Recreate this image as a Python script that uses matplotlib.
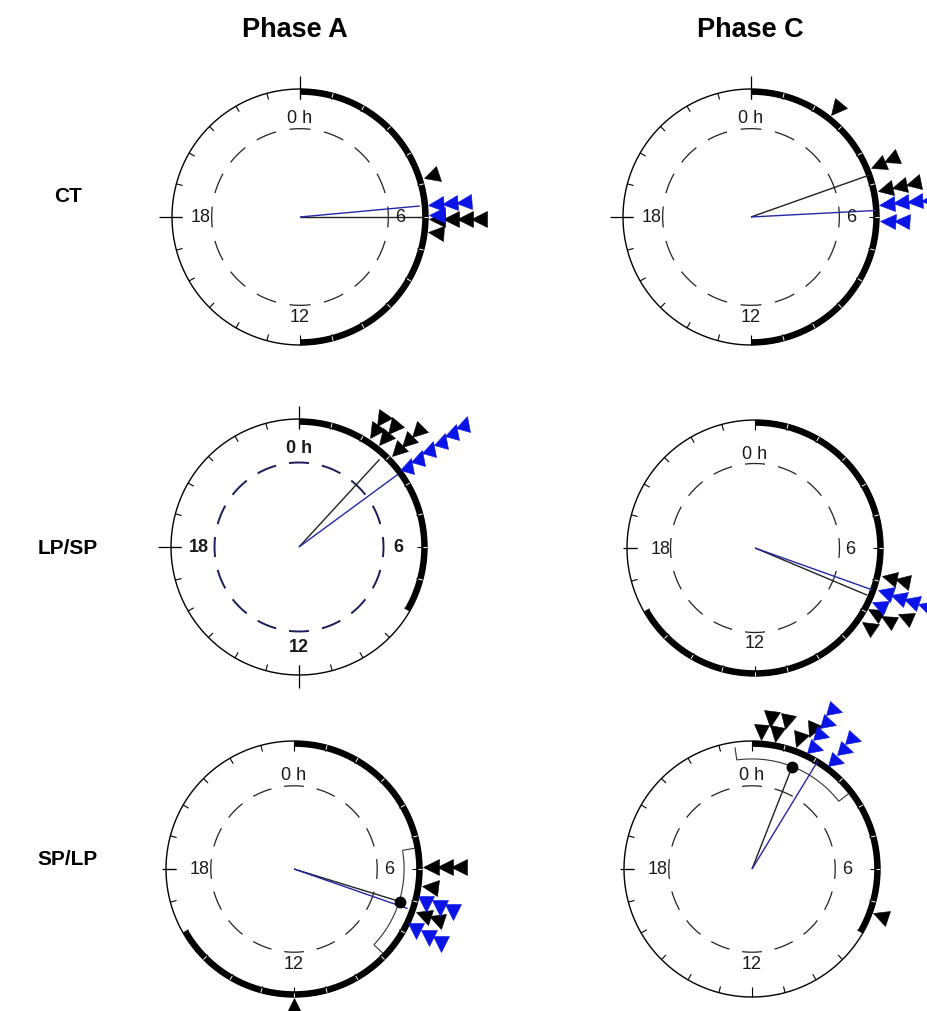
import numpy as np
import matplotlib
matplotlib.use("Agg")
import matplotlib.pyplot as plt
from matplotlib.markers import MarkerStyle
from matplotlib.transforms import Affine2D

plt.rcParams["font.family"] = ["Liberation Sans", "DejaVu Sans"]

# --- data -------------------------------------------------------------
col_titles = ["Phase A", "Phase C"]
row_labels = ["CT", "LP/SP", "SP/LP"]

# panels in reading order: CT-A, CT-C, LP/SP-A, LP/SP-C, SP/LP-A, SP/LP-C
# light phase (thick arc), clock hours
light_on = [0, 0, 0, 0, 0, 0]
light_off = [12, 12, 8, 16, 16, 8]

# individual peak phases (h)
black_phases = [
    [4.85, 6.05, 6.05, 6.05, 6.05, 6.45],
    [2.55, 4.5, 4.5, 5.2, 5.2, 5.2],
    [2.2, 2.2, 2.55, 2.55, 3.05, 3.05, 3.05],
    [6.85, 6.85, 7.9, 7.9, 7.65, 8.3],
    [5.95, 5.95, 5.95, 6.5, 7.3, 7.3, 12.0],
    [0.24, 0.48, 0.66, 0.9, 1.33, 1.56, 7.35],
]
blue_phases = [
    [5.65, 5.65, 5.65, 5.95],
    [5.63, 5.63, 5.63, 5.63, 6.1, 6.1],
    [3.55, 3.55, 3.55, 3.55, 3.55, 3.55],
    [7.25, 7.25, 7.25, 7.25, 7.25, 7.65],
    [7.0, 7.0, 7.0, 7.8, 7.8, 7.8],
    [1.85, 1.85, 1.85, 1.85, 2.55, 2.55, 2.55],
]

# mean vectors: phase (h) and length r
black_mean_h = [6.0, 4.7, 2.84, 7.52, 7.14, 1.43]
black_mean_r = [0.96, 0.98, 0.93, 0.95, 0.87, 0.86]
blue_mean_h = [5.65, 5.8, 3.58, 7.31, 7.28, 2.09]
blue_mean_r = [0.94, 0.98, 0.96, 0.97, 0.94, 0.99]

# 95% confidence interval of the black mean (only where drawn)
ci_lo = [None, None, None, None, 5.35, -0.53]
ci_hi = [None, None, None, None, 8.9, 3.47]

# Rayleigh critical radius (dashed circle)
crit_r = [0.69, 0.69, 0.66, 0.66, 0.65, 0.65]

# --- layout / style ---------------------------------------------------
W, H = 928, 1012
R = 128  # circle radius in px
centers = [(300, 218), (751, 218), (299, 548), (755, 549), (294, 870), (752, 870)]
label_r = [0.78, 0.78, 0.78, 0.74, 0.74, 0.74]
label_bold = [False, False, True, False, False, False]
out_ticks = [[0, 18], [0, 18], [0, 12, 18], [18], [18], [18]]
blue_dir = [None, None, 75, None, 270, 345]  # absolute pointing direction, None = inward
dash_col = ["#222222", "#222222", "#1c1c5a", "#222222", "#222222", "#222222"]
BLUE = "#0a14e6"
BLUE_LINE = "#2626a6"
RMAX = 1.75


def h2t(h):
    return np.asarray(h, dtype=float) / 24.0 * 2 * np.pi


def stack(phases, r0=1.07, step=0.11, dmin=0.08):
    placed = []
    for h in phases:
        a = float(h2t(h))
        r = r0
        while any(np.hypot(r * np.sin(a) - q * np.sin(b), r * np.cos(a) - q * np.cos(b)) < dmin
                  for b, q in placed):
            r += step
        placed.append((a, r))
    return placed


def triangle(ax, a, r, color, direction=None):
    rot = -np.degrees(a) if direction is None else direction - 270
    m = MarkerStyle("v", transform=Affine2D().rotate_deg(rot))
    ax.plot([a], [r], ls="none", marker=m, ms=11, mfc=color, mec=color,
            mew=0.4, clip_on=False, zorder=5)


fig = plt.figure(figsize=(W / 100, H / 100), dpi=100)

for i, (cx, cy) in enumerate(centers):
    half = RMAX * R
    ax = fig.add_axes([(cx - half) / W, (H - cy - half) / H, 2 * half / W, 2 * half / H],
                      projection="polar")
    ax.set_theta_zero_location("N")
    ax.set_theta_direction(-1)
    ax.set_ylim(0, RMAX)
    ax.set_axis_off()

    kw = dict(clip_on=False, solid_capstyle="butt")
    th = np.linspace(0, 2 * np.pi, 721)
    ax.plot(th, np.ones_like(th), color="k", lw=1.0, **kw)

    # hour ticks
    for hr in range(24):
        t = h2t(hr)
        inner = 0.92 if hr % 6 == 0 else 0.95
        ax.plot([t, t], [inner, 1.0], color="k", lw=0.8, **kw)
    for hr in out_ticks[i]:
        t = h2t(hr)
        top = 1.1 if i < 3 else 1.03
        ax.plot([t, t], [0.92, top], color="k", lw=0.9, **kw)

    # light phase arc
    ta = np.linspace(h2t(light_on[i]), h2t(light_off[i]), 200)
    ax.plot(ta, np.full_like(ta, 0.978), color="k", lw=4.3, **kw)
    for hr in range(light_on[i] + 1, light_off[i]):
        t = h2t(hr)
        ax.plot([t, t], [0.965, 1.0], color="white", lw=0.7, **kw)

    # dashed critical circle, dashes centred on the quarter hours
    for k in range(16):
        c = k * 2 * np.pi / 16
        seg = np.linspace(c - np.radians(6.8), c + np.radians(6.8), 20)
        ax.plot(seg, np.full_like(seg, crit_r[i]), color=dash_col[i],
                lw=1.4 if i == 2 else 0.9, **kw)

    # hour labels
    fw = "bold" if label_bold[i] else "normal"
    for hr, txt in zip([0, 6, 12, 18], ["0 h", "6", "12", "18"]):
        ax.text(h2t(hr), label_r[i], txt, ha="center", va="center",
                fontsize=13, fontweight=fw, color="#1a1a1a")

    # confidence interval bracket
    if ci_lo[i] is not None:
        tc = np.linspace(h2t(ci_lo[i]), h2t(ci_hi[i]), 100)
        ax.plot(tc, np.full_like(tc, 0.86), color="#333333", lw=0.8, **kw)
        for e in (ci_lo[i], ci_hi[i]):
            ax.plot([h2t(e), h2t(e)], [0.86, 0.96], color="#333333", lw=0.8, **kw)

    # mean vectors
    tb = h2t(black_mean_h[i])
    ax.plot([tb, tb], [0, black_mean_r[i]], color="#222222", lw=1.0, **kw)
    tl = h2t(blue_mean_h[i])
    ax.plot([tl, tl], [0, blue_mean_r[i]], color=BLUE_LINE, lw=1.0, **kw)
    if ci_lo[i] is not None:
        ax.plot([tb], [black_mean_r[i]], "o", color="k", ms=7.5, clip_on=False, zorder=6)

    # individual phases
    for a, r in stack(black_phases[i]):
        triangle(ax, a, r, "k")
    for a, r in stack(blue_phases[i]):
        triangle(ax, a, r, BLUE, blue_dir[i])

# titles
for x, t in zip([295, 750], col_titles):
    fig.text(x / W, 1 - 30 / H, t, ha="center", va="center", fontsize=19.5, fontweight="bold")
for y, t in zip([196, 548, 860], row_labels):
    fig.text(68 / W, 1 - y / H, t, ha="center", va="center", fontsize=15, fontweight="bold")

fig.savefig("out.png", dpi=100)
